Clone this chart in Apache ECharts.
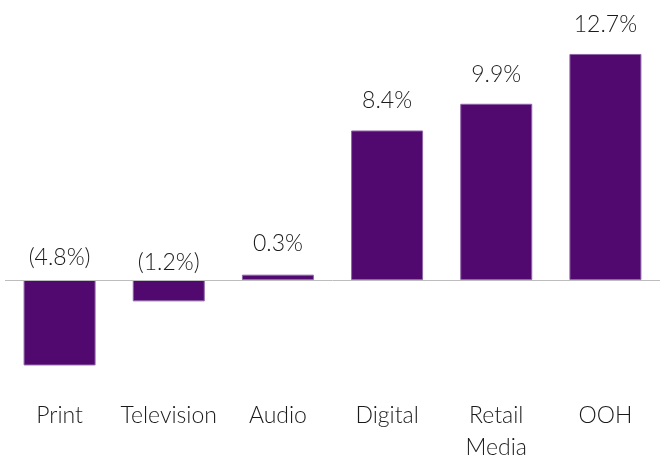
<!DOCTYPE html>
<html>
<head>
<meta charset="utf-8">
<script src="https://cdn.jsdelivr.net/npm/echarts@6/dist/echarts.min.js"></script>
<style>
  html, body { margin: 0; padding: 0; background: #fff; }
  #chart { width: 664px; height: 465px; }
</style>
</head>
<body>
<div id="chart"></div>
<script>
// 数据
var categories = ['Print', 'Television', 'Audio', 'Digital', 'Retail\nMedia', 'OOH']
var growth = [-4.8, -1.2, 0.3, 8.4, 9.9, 12.7]
// 标签离柱顶（负值为零线）的距离
var labelGap = [11, 6, 20, 18, 18, 18]

var myChart = echarts.init(document.getElementById('chart'))

var seriesData = growth.map(function (v, i) {
  return {
    value: v,
    label: { distance: labelGap[i] }
  }
})

var option = {
  animation: false,
  grid: { left: 5, right: 4, top: 48.6, height: 338.2 },
  xAxis: {
    type: 'category',
    data: categories,
    axisLine: { show: false, onZero: false },
    axisTick: { show: false },
    axisLabel: {
      interval: 0,
      margin: 13,
      color: '#1a1a1a',
      fontFamily: 'Lato',
      fontWeight: 300,
      fontSize: 23,
      lineHeight: 32
    }
  },
  yAxis: {
    type: 'value',
    min: -6,
    max: 13,
    show: false,
    splitLine: { show: false }
  },
  series: [{
    type: 'bar',
    barWidth: 72,
    data: seriesData,
    itemStyle: {
      color: '#51096f',
      borderColor: '#8f66a8',
      borderWidth: 1
    },
    label: {
      show: true,
      position: 'top',
      color: '#1a1a1a',
      fontFamily: 'Lato',
      fontWeight: 300,
      fontSize: 23,
      formatter: function (p) {
        var v = p.value
        return v < 0 ? '(' + Math.abs(v).toFixed(1) + '%)' : v.toFixed(1) + '%'
      }
    },
    markLine: {
      silent: true,
      symbol: 'none',
      label: { show: false },
      lineStyle: { color: '#bdbdbd', width: 1, type: 'solid' },
      data: [{ yAxis: 0 }]
    }
  }]
}
myChart.setOption(option, true)
window.addEventListener('resize', function () {
  myChart.resize()
})
</script>
</body>
</html>
